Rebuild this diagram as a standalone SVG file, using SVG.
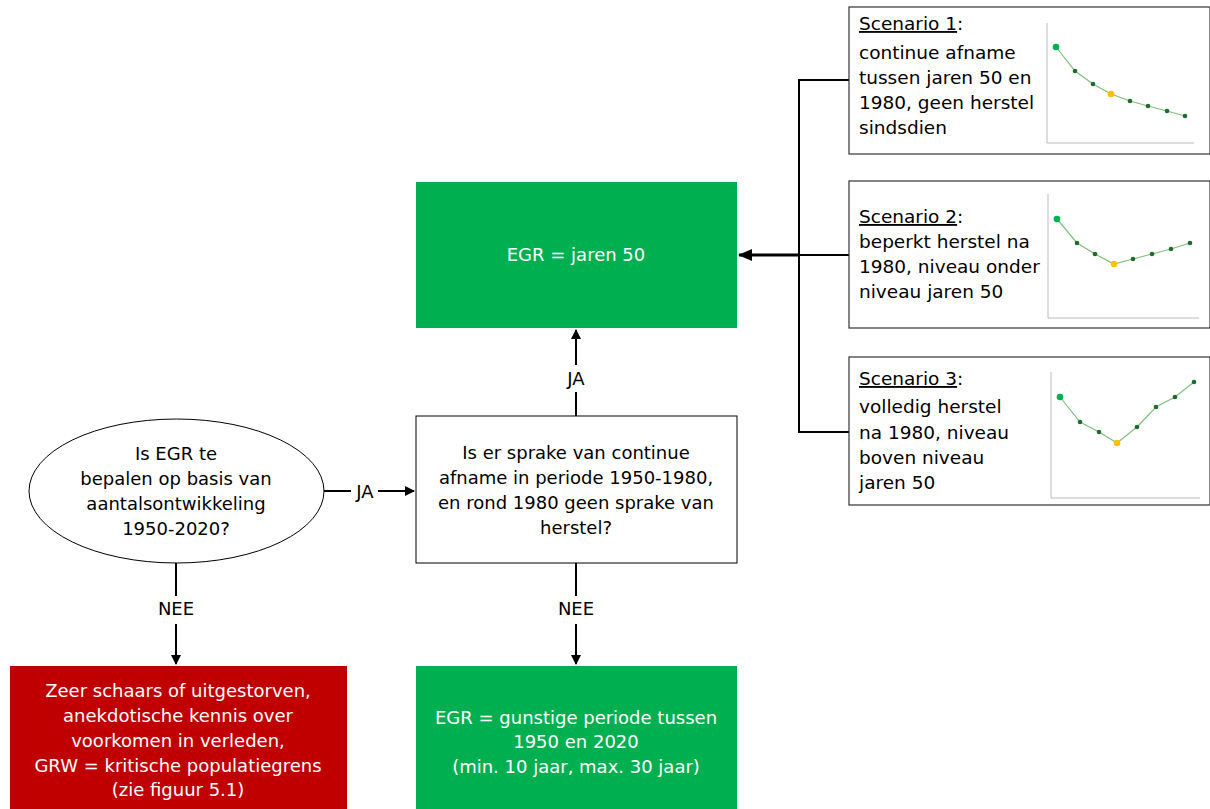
<svg xmlns="http://www.w3.org/2000/svg" width="1210" height="809" viewBox="0 0 1210 809">
<style>
text{font-family:"DejaVu Sans","Liberation Sans",sans-serif;font-size:18px;fill:#000}
.c{text-anchor:middle}
.w{fill:#fff}
.box{fill:#fff;stroke:#000;stroke-width:1}
.sbox{fill:#fff;stroke:#333;stroke-width:1.2}
.con{fill:none;stroke:#000;stroke-width:2}
.ax{fill:none;stroke:#bbb;stroke-width:1}
.ln{fill:none;stroke:#7fbf7f;stroke-width:1.2}
.dot{fill:#1e6b2e}
.st{font-size:18.5px}
</style>
<defs>
<marker id="ah" markerWidth="10" markerHeight="10" refX="9" refY="5" orient="auto" markerUnits="userSpaceOnUse">
<path d="M0,0 L10,5 L0,10 z" fill="#000"/>
</marker>
<marker id="ah2" markerWidth="14" markerHeight="12" refX="13" refY="6" orient="auto" markerUnits="userSpaceOnUse">
<path d="M0,0 L14,6 L0,12 z" fill="#000"/>
</marker>
</defs>

<g id="connectors">
<path class="con" d="M324,491 H351"/>
<text class="c" x="365" y="498">JA</text>
<path class="con" d="M378,491 H414" marker-end="url(#ah)"/>
<path class="con" d="M576,416 V392"/>
<text class="c" x="576" y="385">JA</text>
<path class="con" d="M576,365 V330" marker-end="url(#ah)"/>
<path class="con" d="M576,563 V596"/>
<text class="c" x="576" y="615">NEE</text>
<path class="con" d="M576,624 V664" marker-end="url(#ah)"/>
<path class="con" d="M176,563 V596"/>
<text class="c" x="176" y="615">NEE</text>
<path class="con" d="M176,624 V664" marker-end="url(#ah)"/>
<path class="con" d="M849,80 H799 V432 H849"/>
<path class="con" d="M849,255 H799"/>
<path fill="none" stroke="#000" stroke-width="3" d="M799,255 H739" marker-end="url(#ah2)"/>
</g>

<g id="q1">
<ellipse cx="176.5" cy="491" rx="147.5" ry="72" fill="#fff" stroke="#000" stroke-width="1"/>
<text class="c" x="176" y="460">Is EGR te</text>
<text class="c" x="176" y="485">bepalen op basis van</text>
<text class="c" x="176" y="510">aantalsontwikkeling</text>
<text class="c" x="176" y="535">1950-2020?</text>
</g>

<g id="q2">
<rect class="box" x="416" y="416" width="321" height="147"/>
<text class="c" x="576" y="459">Is er sprake van continue</text>
<text class="c" x="576" y="484">afname in periode 1950-1980,</text>
<text class="c" x="576" y="509">en rond 1980 geen sprake van</text>
<text class="c" x="576" y="534">herstel?</text>
</g>

<g id="egr50">
<rect x="416" y="182" width="321" height="146" fill="#00b050"/>
<text class="c w" x="576" y="261">EGR = jaren 50</text>
</g>

<g id="egrgunstig">
<rect x="416" y="666" width="321" height="143" fill="#00b050"/>
<text class="c w" x="576" y="724">EGR = gunstige periode tussen</text>
<text class="c w" x="576" y="748">1950 en 2020</text>
<text class="c w" x="576" y="773">(min. 10 jaar, max. 30 jaar)</text>
</g>

<g id="grw">
<rect x="10" y="666" width="337" height="143" fill="#c00000"/>
<text class="c w" x="178" y="697">Zeer schaars of uitgestorven,</text>
<text class="c w" x="178" y="722">anekdotische kennis over</text>
<text class="c w" x="178" y="747">voorkomen in verleden,</text>
<text class="c w" x="178" y="772">GRW = kritische populatiegrens</text>
<text class="c w" x="178" y="796">(zie figuur 5.1)</text>
</g>

<g id="scen1">
<rect class="sbox" x="849" y="7" width="361" height="147"/>
<text class="st" x="859" y="30"><tspan text-decoration="underline">Scenario 1</tspan>:</text>
<text class="st" x="859" y="59">continue afname</text>
<text class="st" x="859" y="84">tussen jaren 50 en</text>
<text class="st" x="859" y="109">1980, geen herstel</text>
<text class="st" x="859" y="134">sindsdien</text>
<path class="ax" d="M1047,23 V143 H1194"/>
<polyline class="ln" points="1056,47 1075,71 1093,84 1111,94 1130,101 1148,106 1167,111 1185,116"/>
<circle cx="1056" cy="47" r="3.3" fill="#00b050"/>
<circle class="dot" cx="1075" cy="71" r="2.3"/>
<circle class="dot" cx="1093" cy="84" r="2.3"/>
<circle cx="1111" cy="94" r="3.3" fill="#ffc000"/>
<circle class="dot" cx="1130" cy="101" r="2.3"/>
<circle class="dot" cx="1148" cy="106" r="2.3"/>
<circle class="dot" cx="1167" cy="111" r="2.3"/>
<circle class="dot" cx="1185" cy="116" r="2.3"/>
</g>

<g id="scen2">
<rect class="sbox" x="849" y="181" width="361" height="147"/>
<text class="st" x="859" y="223"><tspan text-decoration="underline">Scenario 2</tspan>:</text>
<text class="st" x="859" y="248">beperkt herstel na</text>
<text class="st" x="859" y="273">1980, niveau onder</text>
<text class="st" x="859" y="298">niveau jaren 50</text>
<path class="ax" d="M1048,194 V318 H1199"/>
<polyline class="ln" points="1057,219 1077,243 1095,254 1114,264 1133,259 1152,254 1171,249 1190,243"/>
<circle cx="1057" cy="219" r="3.3" fill="#00b050"/>
<circle class="dot" cx="1077" cy="243" r="2.3"/>
<circle class="dot" cx="1095" cy="254" r="2.3"/>
<circle cx="1114" cy="264" r="3.3" fill="#ffc000"/>
<circle class="dot" cx="1133" cy="259" r="2.3"/>
<circle class="dot" cx="1152" cy="254" r="2.3"/>
<circle class="dot" cx="1171" cy="249" r="2.3"/>
<circle class="dot" cx="1190" cy="243" r="2.3"/>
</g>

<g id="scen3">
<rect class="sbox" x="849" y="357" width="361" height="148"/>
<text class="st" x="859" y="385"><tspan text-decoration="underline">Scenario 3</tspan>:</text>
<text class="st" x="859" y="413">volledig herstel</text>
<text class="st" x="859" y="439">na 1980, niveau</text>
<text class="st" x="859" y="464">boven niveau</text>
<text class="st" x="859" y="489">jaren 50</text>
<path class="ax" d="M1051,372 V498 H1200"/>
<polyline class="ln" points="1060,397 1080,422 1099,432 1117,443 1137,427 1156,407 1175,397 1194,382"/>
<circle cx="1060" cy="397" r="3.3" fill="#00b050"/>
<circle class="dot" cx="1080" cy="422" r="2.3"/>
<circle class="dot" cx="1099" cy="432" r="2.3"/>
<circle cx="1117" cy="443" r="3.3" fill="#ffc000"/>
<circle class="dot" cx="1137" cy="427" r="2.3"/>
<circle class="dot" cx="1156" cy="407" r="2.3"/>
<circle class="dot" cx="1175" cy="397" r="2.3"/>
<circle class="dot" cx="1194" cy="382" r="2.3"/>
</g>
</svg>
